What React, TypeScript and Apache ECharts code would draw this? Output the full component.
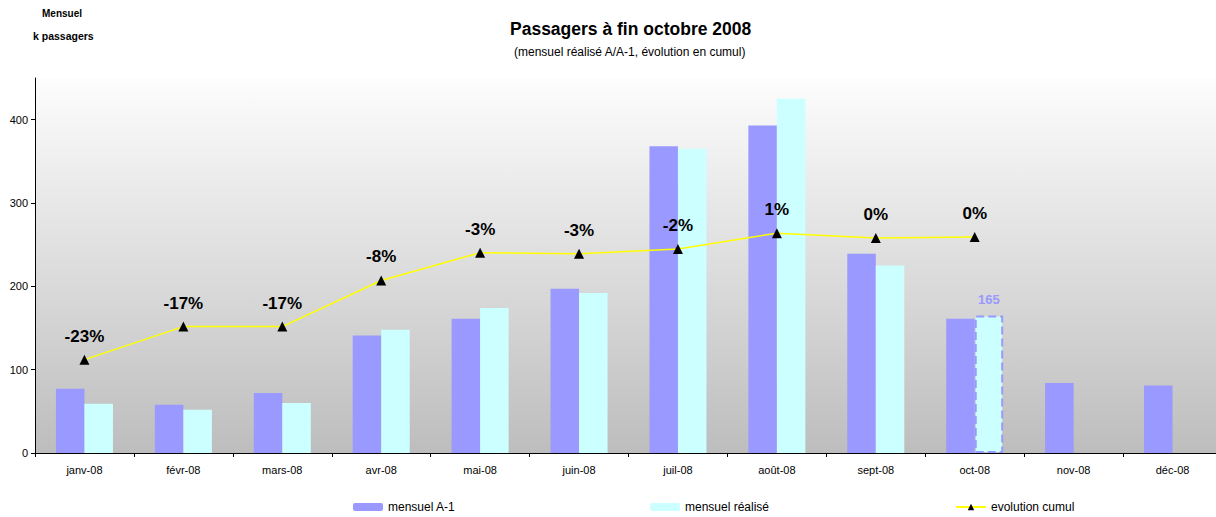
import React, { useEffect, useRef } from "react";
import * as echarts from "echarts";

const categories = ["janv-08", "févr-08", "mars-08", "avr-08", "mai-08", "juin-08", "juil-08", "août-08", "sept-08", "oct-08", "nov-08", "déc-08"];
const mensuelA1 = [77, 58, 72, 141, 161, 197, 368, 393, 239, 161, 84, 81];
const mensuelRealise = [59, 52, 60, 148, 174, 192, 365, 425, 225, 165];
const evolutionCumul = [-23.2, -16.9, -16.9, -8.1, -2.8, -3.0, -2.1, 0.9, 0.0, 0.2];
const yTicks = [0, 100, 200, 300, 400];

const FONT = "Arial, 'Liberation Sans', sans-serif";

export default function App() {
  const ref = useRef<HTMLDivElement>(null);
  useEffect(() => {
    if (!ref.current) return;
    const chart = echarts.init(ref.current, null, { renderer: "svg" });
    const realiseData = mensuelRealise.map((v, i) =>
      i === 9
        ? {
            value: v,
            itemStyle: { borderColor: "#9999FF", borderType: "dashed", borderWidth: 2 },
            label: { show: true, position: "top", color: "#9999FF", fontWeight: "bold", fontSize: 13, fontFamily: FONT, distance: 10 },
          }
        : v
    );
    const legendText = { fontSize: 12, fontFamily: FONT, color: "#000" };
    chart.setOption({
      animation: false,
      backgroundColor: "#ffffff",
      textStyle: { fontFamily: FONT },
      graphic: [
        { type: "text", left: 510, top: 20, style: { text: "Passagers à fin octobre 2008", font: `bold 17.5px ${FONT}`, fill: "#000" } },
        { type: "text", left: 514, top: 46, style: { text: "(mensuel réalisé A/A-1, évolution en cumul)", font: `12px ${FONT}`, fill: "#000" } },
        { type: "text", left: 42, top: 8, style: { text: "Mensuel", font: `bold 10px ${FONT}`, fill: "#000" } },
        { type: "text", left: 33, top: 30, style: { text: "k passagers", font: `bold 10.5px ${FONT}`, fill: "#000" } },
      ],
      grid: {
        left: 35,
        top: 78,
        bottom: 64,
        right: -6,
        outerBoundsMode: "none",
        containLabel: false,
        show: true,
        borderWidth: 0,
        backgroundColor: new echarts.graphic.LinearGradient(0, 0, 0, 1, [
          { offset: 0, color: "#FDFDFD" },
          { offset: 1, color: "#BDBDBD" },
        ]),
      },
      legend: [
        { data: ["mensuel A-1"], left: 353, top: 501, padding: 0, itemWidth: 30, itemHeight: 8, textStyle: legendText },
        { data: ["mensuel réalisé"], left: 650, top: 501, padding: 0, itemWidth: 30, itemHeight: 8, textStyle: legendText },
        { data: ["evolution cumul"], left: 955, top: 501, padding: 0, itemWidth: 30, itemHeight: 8, textStyle: legendText },
      ],
      xAxis: {
        type: "category",
        data: categories,
        boundaryGap: true,
        axisLine: { lineStyle: { color: "#000", width: 1 } },
        axisTick: { show: true, interval: 0, length: 4, lineStyle: { color: "#000" } },
        axisLabel: { color: "#000", fontSize: 11, fontFamily: FONT, margin: 11, interval: 0 },
        splitLine: { show: false },
      },
      yAxis: [
        {
          type: "value",
          min: 0,
          max: 450,
          interval: 100,
          axisLine: { show: true, lineStyle: { color: "#000", width: 1 } },
          axisTick: { show: true, length: 4, customValues: yTicks, lineStyle: { color: "#000" } },
          axisLabel: { color: "#000", fontSize: 11, fontFamily: FONT, margin: 7, customValues: yTicks },
          splitLine: { show: false },
        },
        {
          type: "value",
          min: -41,
          max: 30.5,
          show: false,
          splitLine: { show: false },
        },
      ],
      series: [
        {
          name: "mensuel A-1",
          type: "bar",
          data: mensuelA1,
          barWidth: 28.5,
          barGap: "0%",
          itemStyle: { color: "#9999FF" },
        },
        {
          name: "mensuel réalisé",
          type: "bar",
          data: realiseData,
          barWidth: 28.5,
          barGap: "0%",
          itemStyle: { color: "#CCFFFF" },
        },
        {
          name: "evolution cumul",
          type: "line",
          yAxisIndex: 1,
          data: evolutionCumul,
          symbol: "triangle",
          symbolSize: 10,
          z: 5,
          lineStyle: { color: "#FFFF00", width: 1.5 },
          itemStyle: { color: "#000" },
          label: {
            show: true,
            position: "top",
            distance: 10,
            color: "#000",
            fontWeight: "bold",
            fontSize: 17,
            fontFamily: FONT,
            formatter: (p: any) => `${Math.round(p.value) === 0 ? 0 : Math.round(p.value)}%`,
          },
        },
      ],
    });
    return () => chart.dispose();
  }, []);
  return <div ref={ref} style={{ position: "fixed", left: 0, top: 0, width: 1216, height: 517 }} />;
}
